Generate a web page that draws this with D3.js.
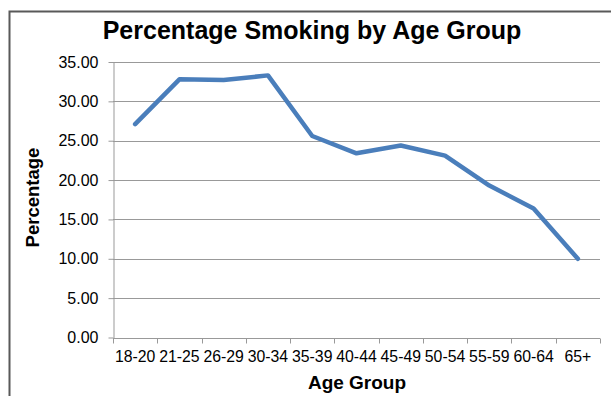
<!DOCTYPE html>
<html lang="en">
<head>
	<meta charset="utf-8">
	<title>Percentage Smoking by Age Group</title>
	<script src="https://d3js.org/d3.v7.min.js"></script>
	<style type="text/css">
		body { margin: 0; background: #fff; }
		.axis text { font-family: "Liberation Sans", Arial, sans-serif; fill: #000; }
		.axis path, .axis line { stroke: #999; }
	</style>
</head>
<body>
	<script type="text/javascript">

	// chart data
	var ageGroups = ["18-20", "21-25", "26-29", "30-34", "35-39", "40-44", "45-49", "50-54", "55-59", "60-64", "65+"];
	var smoking = [27.1, 32.8, 32.7, 33.3, 25.6, 23.4, 24.4, 23.1, 19.3, 16.4, 10.0];
	var yTicks = [0, 5, 10, 15, 20, 25, 30, 35];

	var w = 611;
	var h = 396;
	var plotLeft = 113, plotRight = 600, plotTop = 62, plotBottom = 337.5;

	var svg = d3.select("body")
				.append("svg")
				.attr("width", w)
				.attr("height", h);

	// outer frame (runs off the right and bottom edges)
	svg.append("path")
		.attr("d", "M9.5," + h + "V11.5H" + w)
		.attr("fill", "none")
		.attr("stroke", "#595959")
		.attr("stroke-width", 2);

	var xScale = d3.scaleBand().domain(ageGroups).range([plotLeft, plotRight]);
	var yScale = d3.scaleLinear().domain([0, 35]).range([plotBottom, plotTop]);

	// gridlines
	svg.append("g")
		.selectAll("line")
		.data(yTicks.slice(1))
		.enter()
		.append("line")
		.attr("x1", plotLeft)
		.attr("x2", plotRight)
		.attr("y1", d => Math.round(yScale(d)) + 0.5)
		.attr("y2", d => Math.round(yScale(d)) + 0.5)
		.attr("stroke", "#999");

	// y axis
	var yAxis = d3.axisLeft(yScale).tickValues(yTicks).tickFormat(d3.format(".2f")).tickSize(5).tickSizeOuter(0).tickPadding(10);
	svg.append("g")
		.attr("class", "axis")
		.attr("transform", "translate(" + (plotLeft + 0.5) + ",0)")
		.call(yAxis)
		.selectAll("text")
			.style("font-size", "16px");

	// x axis: ticks at band edges, labels at band centres
	var xAxisG = svg.append("g")
		.attr("class", "axis")
		.attr("transform", "translate(0," + (Math.round(plotBottom) + 0.5) + ")");
	xAxisG.append("line")
		.attr("x1", plotLeft).attr("x2", plotRight)
		.attr("stroke", "#999");
	xAxisG.selectAll(".edge")
		.data(ageGroups.concat([null]))
		.enter()
		.append("line")
		.attr("x1", (d, i) => Math.round(plotLeft + i * xScale.bandwidth()) + 0.5)
		.attr("x2", (d, i) => Math.round(plotLeft + i * xScale.bandwidth()) + 0.5)
		.attr("y1", 0).attr("y2", 5)
		.attr("stroke", "#999");
	xAxisG.selectAll("text")
		.data(ageGroups)
		.enter()
		.append("text")
		.attr("x", d => xScale(d) + xScale.bandwidth() / 2)
		.attr("y", 23.5)
		.attr("text-anchor", "middle")
		.style("font-size", "15.8px")
		.text(d => d);

	// line
	var line = d3.line()
		.x((d, i) => xScale(ageGroups[i]) + xScale.bandwidth() / 2)
		.y(d => yScale(d));
	svg.append("path")
		.datum(smoking)
		.attr("d", line)
		.attr("fill", "none")
		.attr("stroke", "#4a7ebb")
		.attr("stroke-width", 4.5)
		.attr("stroke-linejoin", "round")
		.attr("stroke-linecap", "round");

	// title
	svg.append("text")
		.attr("x", 312)
		.attr("y", 39)
		.attr("text-anchor", "middle")
		.style("font", "bold 25px 'Liberation Sans', Arial, sans-serif")
		.text("Percentage Smoking by Age Group");

	// y label
	svg.append("text")
		.attr("transform", "translate(39,197.5) rotate(-90)")
		.attr("text-anchor", "middle")
		.style("font", "bold 18.5px 'Liberation Sans', Arial, sans-serif")
		.text("Percentage");

	// x label
	svg.append("text")
		.attr("x", 357)
		.attr("y", 389)
		.attr("text-anchor", "middle")
		.style("font", "bold 19px 'Liberation Sans', Arial, sans-serif")
		.text("Age Group");

	</script>
</body>
</html>
